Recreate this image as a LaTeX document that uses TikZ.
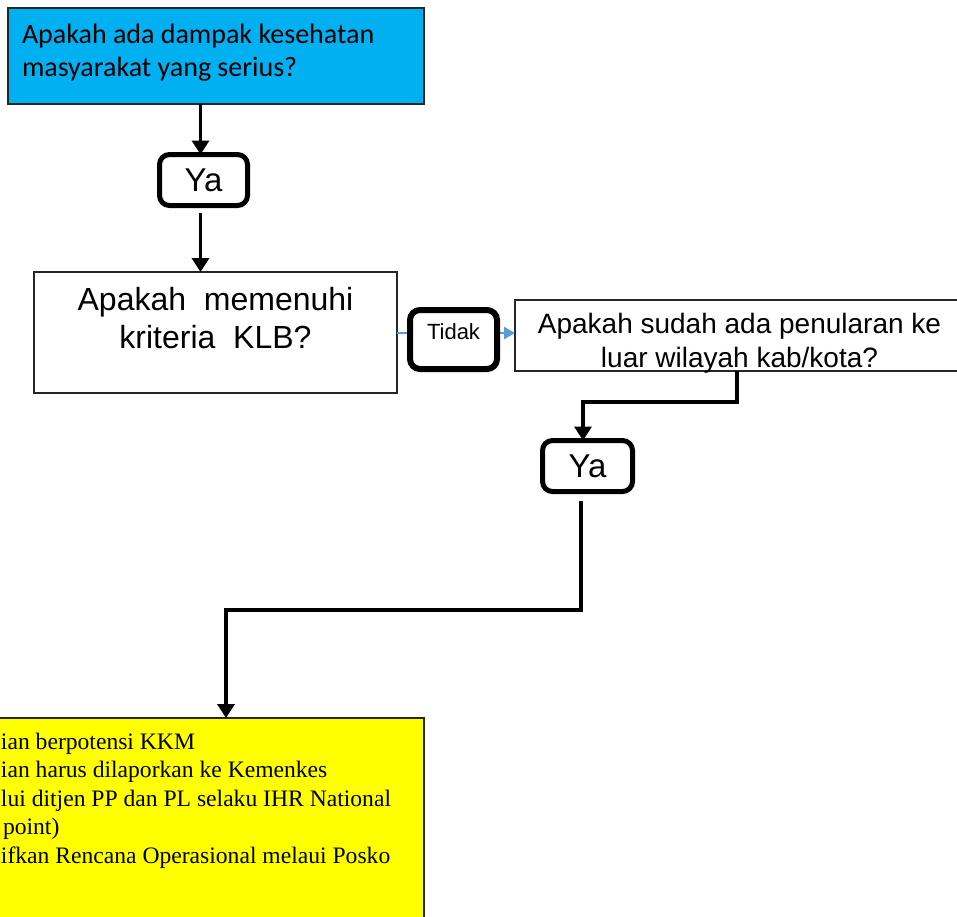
\documentclass[tikz,border=0pt]{standalone}
\usepackage{fontspec}
\setmainfont{Liberation Serif}
\newfontfamily\arialfont{Liberation Sans}
\newfontfamily\calibrifont{Carlito}
\usetikzlibrary{arrows.meta}
\definecolor{skyfill}{HTML}{00B0F0}
\definecolor{notefill}{HTML}{FFFF00}
\definecolor{linkblue}{HTML}{5B9BD5}
\definecolor{edgegray}{HTML}{262626}
\begin{document}
\begin{tikzpicture}[x=1pt,y=-1pt,
  plainbox/.style={draw=edgegray, line width=2pt, rectangle, inner sep=0pt, outer sep=0pt},
  answerbox/.style={draw=black, line width=5pt, rounded corners=10pt, fill=white,
    inner sep=0pt, outer sep=0pt, font=\arialfont\fontsize{33}{38}\selectfont},
  conn/.style={draw=black, line width=3.5pt,
    -{Triangle[length=14pt,width=17pt]}},
  bluelink/.style={draw=linkblue, line width=2.5pt,
    -{Triangle[length=11pt,width=12pt]}},
  plaintext/.style={inner sep=0pt, outer sep=0pt}]
\useasboundingbox (0,0) rectangle (957,916);
\clip (0,0) rectangle (957,916);

% question: serious public health impact
\node[plainbox, fill=skyfill, minimum width=415.5pt, minimum height=95.5pt] (impact) at (216,56) {};
\node[plaintext, anchor=base west, align=left,
  font=\calibrifont\fontsize{28}{33}\selectfont] (impacttxt) at (22,76)
  {Apakah ada dampak kesehatan\\masyarakat yang serius?};

% first "Ya"
\node[answerbox, minimum width=88pt, minimum height=51pt] (ya1) at (203.5,180) {Ya};

% question: KLB criteria
\node[plainbox, fill=white, minimum width=363pt, minimum height=121pt] (klb) at (215.5,332.5) {};
\node[plaintext, anchor=base, align=center,
  font=\arialfont\fontsize{32}{38}\selectfont] (klbtxt) at (215.5,348)
  {Apakah~~memenuhi\\kriteria~~KLB?};

% question: spread outside the district
\node[plainbox, fill=white, minimum width=449pt, minimum height=71pt] (spread) at (739.5,335.5) {};
\node[plaintext, anchor=base, align=center,
  font=\arialfont\fontsize{28}{34}\selectfont] (spreadtxt) at (739.5,367)
  {Apakah sudah ada penularan ke\\luar wilayah kab/kota?};

% second "Ya"
\node[answerbox, minimum width=90pt, minimum height=51pt] (ya2) at (587.5,466) {Ya};

% outcome box
\node[plainbox, fill=notefill, anchor=north east, minimum width=500pt, minimum height=260pt] (outcome) at (424,718) {};
\node[plaintext, anchor=base west, align=left,
  font=\fontsize{23.6}{28.5}\selectfont] (outcometxt) at (1,863)
  {ian berpotensi KKM\\ian harus dilaporkan ke Kemenkes\\lui ditjen PP dan PL selaku IHR National\\\hspace*{2pt}point)\\ifkan Rencana Operasional melaui Posko};

% "Tidak" branch
\draw[bluelink] (klb.east |- 0,333) -- (spread.west |- 0,333);
\node[answerbox, line width=6pt, minimum width=87pt, minimum height=59pt,
  font=\arialfont\fontsize{22}{26}\selectfont, text height=15pt, text depth=15pt] (tidak) at (453.5,339.5) {Tidak};

% connectors
\coordinate (elbowA) at (0,402);
\coordinate (elbowB) at (0,610);
\draw[conn] ([xshift=-3pt]impact.south -| ya1.north) -- ([xshift=-3pt]ya1.north);
\draw[conn, shorten <=7pt] ([xshift=-3pt]ya1.south) -- ([xshift=-3pt]ya1.south |- klb.north);
\draw[conn] ([xshift=-2.5pt]spread.south) -- ([xshift=-2.5pt]spread.south |- elbowA) -| ([xshift=-4.5pt]ya2.north);
\draw[conn, shorten <=9pt] ([xshift=-6.5pt]ya2.south) -- ([xshift=-6.5pt]ya2.south |- elbowB) -| ([xshift=52pt]outcome.north);
\end{tikzpicture}
\end{document}
